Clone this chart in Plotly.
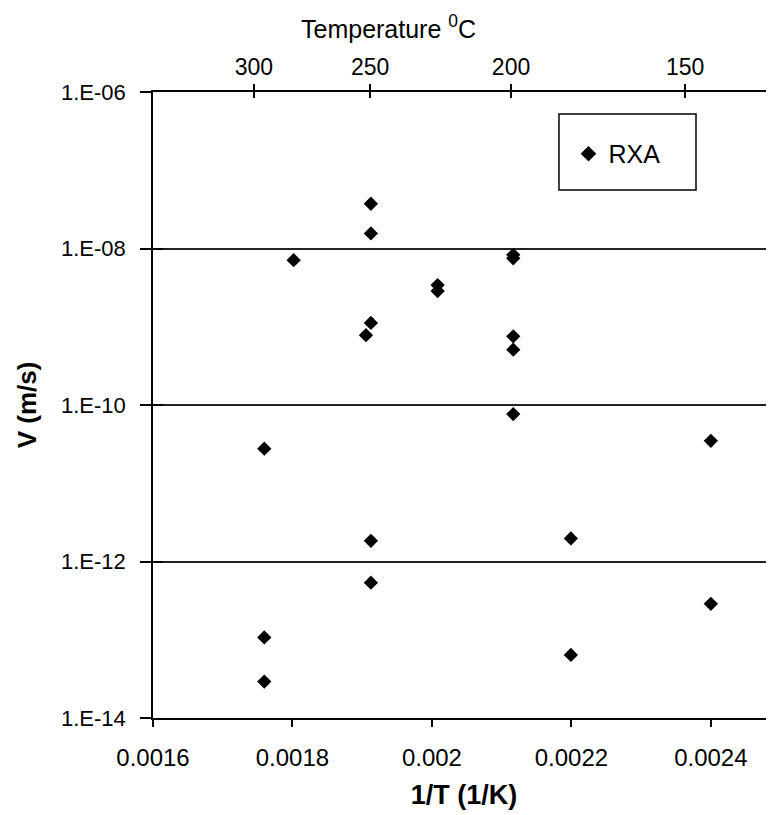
import plotly.graph_objects as go

# Data: 1/T (1/K) and V (m/s) for RXA
inv_T = [0.0019125, 0.0019125, 0.0018017, 0.0020082, 0.0020082, 0.0021166, 0.0021166,
         0.0019125, 0.0019054, 0.0021166, 0.0021166, 0.0021166, 0.0017596, 0.0019125,
         0.0019125, 0.0017596, 0.0017596, 0.0024, 0.0021993, 0.0024, 0.0021993]
velocity = [3.73e-8, 1.56e-8, 7.1e-9, 3.41e-9, 2.86e-9, 8.3e-9, 7.5e-9,
            1.12e-9, 7.8e-10, 7.55e-10, 5.1e-10, 7.66e-11, 2.77e-11, 1.84e-12,
            5.36e-13, 1.07e-13, 2.92e-14, 3.48e-11, 1.97e-12, 2.88e-13, 6.4e-14]

x_ticks = [0.0016, 0.0018, 0.002, 0.0022, 0.0024]
x_tick_labels = ["0.0016", "0.0018", "0.002", "0.0022", "0.0024"]
y_ticks = [1e-14, 1e-12, 1e-10, 1e-8, 1e-6]
y_tick_labels = ["1.E-14", "1.E-12", "1.E-10", "1.E-08", "1.E-06"]
temp_ticks_C = [300, 250, 200, 150]

x_range = [0.0016, 0.002492]
y_range = [-14, -6]
font_family = "Liberation Sans, Arial, sans-serif"
temp_tickvals = [1.0 / (t + 273.15) for t in temp_ticks_C]

fig = go.Figure()
fig.add_trace(go.Scatter(
    x=inv_T, y=velocity, mode="markers", name="RXA",
    marker=dict(symbol="diamond", size=11, color="black"),
))
# invisible helper traces so the extra axes are drawn
for xa, ya in [("x2", "y"), ("x3", "y"), ("x", "y2")]:
    fig.add_trace(go.Scatter(x=[x_range[0]], y=[1e-10], xaxis=xa, yaxis=ya, mode="markers",
                             marker=dict(opacity=0), showlegend=False, hoverinfo="skip"))

fig.update_layout(
    width=767, height=808,
    margin=dict(l=145, r=0, t=84, b=98),
    paper_bgcolor="white", plot_bgcolor="white",
    font=dict(family=font_family, color="black", size=22),
    showlegend=True,
    legend=dict(x=0.668, y=0.901, xanchor="left", yanchor="middle",
                borderwidth=0, bgcolor="rgba(0,0,0,0)",
                font=dict(size=25), itemsizing="constant"),
    xaxis=dict(
        range=x_range, tickvals=x_ticks, ticktext=x_tick_labels,
        showgrid=False, zeroline=False,
        showline=True, linecolor="black", linewidth=1.5,
        ticks="outside", ticklen=7, tickcolor="black", tickwidth=1.5,
        tickfont=dict(size=24), ticklabelstandoff=10,
        title=dict(text="<b>1/T (1/K)</b>", font=dict(size=27), standoff=16),
    ),
    xaxis2=dict(
        overlaying="x", side="top", range=x_range,
        tickvals=temp_tickvals, ticktext=[str(t) for t in temp_ticks_C],
        showgrid=False, zeroline=False,
        showline=True, linecolor="black", linewidth=1.5,
        ticks="outside", ticklen=6, tickcolor="black", tickwidth=1.5,
        tickfont=dict(size=23), ticklabelstandoff=0,
    ),
    xaxis3=dict(
        overlaying="x", side="top", range=x_range,
        tickvals=temp_tickvals, showticklabels=False,
        showgrid=False, zeroline=False, showline=False,
        ticks="inside", ticklen=6, tickcolor="black", tickwidth=1.5,
    ),
    yaxis=dict(
        type="log", range=y_range, tickvals=y_ticks, ticktext=y_tick_labels,
        showgrid=True, gridcolor="#222222", gridwidth=1.8,
        zeroline=False, showline=True, linecolor="black", linewidth=1.5,
        ticks="outside", ticklen=11, tickcolor="black", tickwidth=1.5,
        tickfont=dict(size=22), ticklabelstandoff=10,
        title=dict(text="<b>V (m/s)</b>", font=dict(size=26), standoff=17),
    ),
    yaxis2=dict(
        type="log", range=y_range, overlaying="y", side="left",
        tickvals=y_ticks, showticklabels=False,
        showgrid=False, zeroline=False, showline=False,
        ticks="inside", ticklen=10, tickcolor="black", tickwidth=1.5,
    ),
    shapes=[dict(type="rect", xref="paper", yref="paper",
                 x0=0.6527, x1=0.873, y0=0.8435, y1=0.9649,
                 line=dict(color="black", width=1.5), fillcolor="rgba(0,0,0,0)")],
    annotations=[dict(text="Temperature <sup>0</sup>C", xref="paper", yref="paper",
                      x=0.379, y=1.104, xanchor="center", yanchor="middle",
                      showarrow=False, font=dict(size=25))],
)

fig.write_html("out.html")
